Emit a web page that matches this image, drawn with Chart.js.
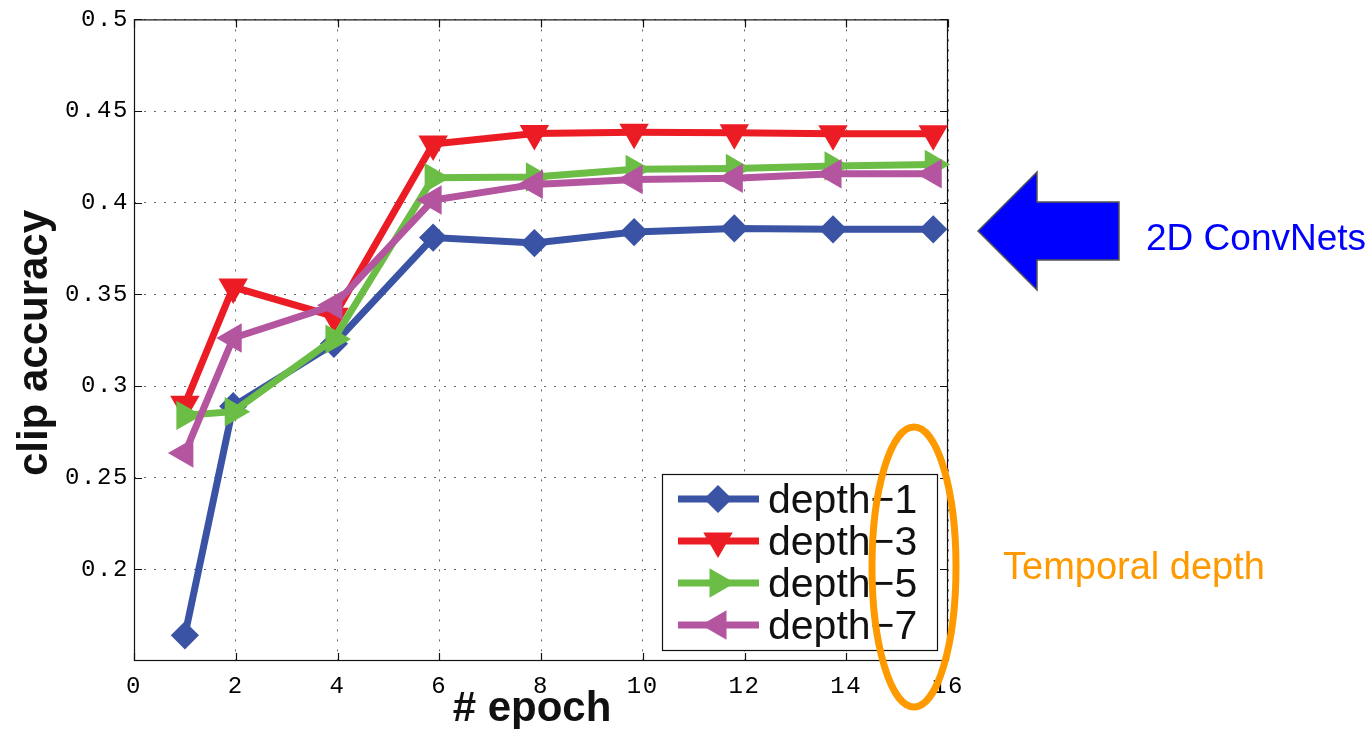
<!DOCTYPE html>
<html><head><meta charset="utf-8">
<script src="https://cdn.jsdelivr.net/npm/chart.js@4.4.0/dist/chart.umd.min.js"></script>
<style>html,body{margin:0;padding:0;background:#fff;overflow:hidden}#wrap{position:relative;width:1372px;height:729px}</style>
</head><body><div id="wrap"><canvas id="c"></canvas></div>
<script>
// ---- data ----
const epochs = [1, 1.95, 3.93, 5.88, 7.87, 9.83, 11.8, 13.74, 15.71];
const depth1 = [0.164, 0.289, 0.323, 0.381, 0.378, 0.384, 0.386, 0.3855, 0.3855];
const depth3 = [0.290, 0.354, 0.338, 0.432, 0.4378, 0.4385, 0.4381, 0.4376, 0.4376];
const depth5 = [0.284, 0.286, 0.3256, 0.4136, 0.414, 0.4182, 0.4187, 0.420, 0.4209];
const depth7 = [0.2634, 0.3262, 0.344, 0.4015, 0.41, 0.4127, 0.4133, 0.4158, 0.4158];
const seriesLabels = ['depth\u22121', 'depth\u22123', 'depth\u22125', 'depth\u22127'];
const xTicks = [0, 2, 4, 6, 8, 10, 12, 14, 16];
const yTicks = [0.2, 0.25, 0.3, 0.35, 0.4, 0.45, 0.5];
const xTitle = '# epoch';
const yTitle = 'clip accuracy';
const noteArrow = '2D ConvNets';
const noteEllipse = 'Temporal depth';

// ---- styles ----
const seriesColors = ['#3a53a4', '#ec1c24', '#6bbd45', '#b4559f'];
const seriesMarkers = ['rectRot', 'triangle', 'triangle', 'triangle'];
const seriesRotation = [0, 180, 90, 270];
const seriesRadius = [12, 14, 14, 14];
const seriesValues = [depth1, depth3, depth5, depth7];

const datasets = seriesValues.map((vals, i) => ({
  label: seriesLabels[i],
  data: vals.map((v, j) => ({x: epochs[j], y: v})),
  borderColor: seriesColors[i],
  backgroundColor: seriesColors[i],
  borderWidth: 7,
  pointStyle: seriesMarkers[i],
  pointRotation: seriesRotation[i],
  pointRadius: seriesRadius[i],
  pointBorderWidth: 3,
  pointBackgroundColor: seriesColors[i],
  pointBorderColor: seriesColors[i],
  tension: 0,
  order: 3 - i,
  clip: false
}));

function drawMarker(ctx, style, rot, r, x, y) {
  ctx.save();
  ctx.translate(x, y);
  ctx.rotate(rot * Math.PI / 180);
  ctx.beginPath();
  if (style === 'rectRot') {
    ctx.moveTo(-r, 0); ctx.lineTo(0, -r); ctx.lineTo(r, 0); ctx.lineTo(0, r);
  } else {
    for (let k = 0; k < 3; k++) {
      const a = k * 2 * Math.PI / 3;
      const px = Math.sin(a) * r, py = -Math.cos(a) * r;
      if (k === 0) ctx.moveTo(px, py); else ctx.lineTo(px, py);
    }
  }
  ctx.closePath();
  ctx.fill();
  ctx.stroke();
  ctx.restore();
}

const deco = {
  id: 'deco',
  beforeDraw(chart) {
    chart.ctx.letterSpacing = '1.6px';
  },
  beforeDatasetsDraw(chart) {
    const {ctx, chartArea: a, scales} = chart;
    ctx.save();
    ctx.strokeStyle = '#111';
    ctx.lineWidth = 1.2;
    ctx.strokeRect(a.left + 0.5, a.top + 0.5, a.right - a.left - 1, a.bottom - a.top - 1);
    ctx.beginPath();
    xTicks.forEach(v => {
      const px = Math.round(scales.x.getPixelForValue(v)) + 0.5;
      ctx.moveTo(px, a.bottom); ctx.lineTo(px, a.bottom - 8);
      ctx.moveTo(px, a.top); ctx.lineTo(px, a.top + 8);
    });
    yTicks.forEach(v => {
      const py = Math.round(scales.y.getPixelForValue(v)) + 0.5;
      ctx.moveTo(a.left, py); ctx.lineTo(a.left + 8, py);
      ctx.moveTo(a.right, py); ctx.lineTo(a.right - 8, py);
    });
    ctx.stroke();
    ctx.restore();
  },
  afterDraw(chart) {
    const ctx = chart.ctx;
    ctx.save();
    ctx.letterSpacing = '0px';
    // axis titles
    ctx.fillStyle = '#111';
    ctx.font = 'bold 42px "Liberation Sans", Arial, sans-serif';
    ctx.textAlign = 'center';
    ctx.textBaseline = 'alphabetic';
    ctx.fillText(xTitle, 532, 721);
    ctx.save();
    ctx.translate(47, 343);
    ctx.rotate(-Math.PI / 2);
    ctx.fillText(yTitle, 0, 0);
    ctx.restore();

    // legend
    const lx = 662, ly = 474, lw = 275, lh = 176;
    ctx.fillStyle = '#fff';
    ctx.fillRect(lx, ly, lw, lh);
    ctx.strokeStyle = '#111';
    ctx.lineWidth = 1.2;
    ctx.strokeRect(lx + 0.5, ly + 0.5, lw, lh);
    const rows = [499, 541, 583, 625];
    chart.data.datasets.forEach((ds, i) => {
      const y = rows[i];
      ctx.strokeStyle = ds.borderColor;
      ctx.fillStyle = ds.borderColor;
      ctx.lineWidth = 7;
      ctx.beginPath();
      ctx.moveTo(678, y); ctx.lineTo(759, y);
      ctx.stroke();
      ctx.lineWidth = 3;
      drawMarker(ctx, ds.pointStyle, ds.pointRotation, ds.pointRadius, 718, y);
      ctx.fillStyle = '#111';
      ctx.font = '41px "Liberation Sans", Arial, sans-serif';
      ctx.textAlign = 'left';
      ctx.textBaseline = 'alphabetic';
      ctx.fillText(ds.label, 768, y + 14);
    });

    // arrow annotation
    ctx.beginPath();
    ctx.moveTo(978, 231); ctx.lineTo(1037, 172); ctx.lineTo(1037, 202);
    ctx.lineTo(1119, 202); ctx.lineTo(1119, 260); ctx.lineTo(1037, 260);
    ctx.lineTo(1037, 290); ctx.closePath();
    ctx.fillStyle = '#0000ff';
    ctx.fill();
    ctx.strokeStyle = '#555';
    ctx.lineWidth = 1.5;
    ctx.stroke();
    ctx.font = '37px "Liberation Sans", Arial, sans-serif';
    ctx.fillStyle = '#0000ff';
    ctx.textAlign = 'left';
    ctx.fillText(noteArrow, 1146, 250);

    // ellipse annotation
    ctx.beginPath();
    ctx.ellipse(914, 567, 42, 140, 0, 0, Math.PI * 2);
    ctx.strokeStyle = '#ff9900';
    ctx.lineWidth = 7;
    ctx.stroke();
    ctx.font = '38px "Liberation Sans", Arial, sans-serif';
    ctx.fillStyle = '#ff9900';
    ctx.fillText(noteEllipse, 1003, 579);
    ctx.restore();
  }
};

new Chart(document.getElementById('c'), {
  type: 'line',
  data: {datasets},
  options: {
    responsive: true,
    maintainAspectRatio: false,
    animation: false,
    layout: {padding: {left: 0, right: 424, top: 19, bottom: 0}},
    plugins: {legend: {display: false}, tooltip: {enabled: false}},
    scales: {
      x: {
        type: 'linear', min: 0, max: 16,
        afterBuildTicks: s => { s.ticks = xTicks.map(v => ({value: v})); },
        afterFit: s => { s.height = 68; },
        ticks: {font: {family: '"Liberation Mono", monospace', size: 24}, color: '#000', padding: 11,
                maxRotation: 0, autoSkip: false, callback: v => String(v)},
        grid: {color: '#666', lineWidth: 1, drawTicks: false},
        border: {display: false, dash: [2, 8]}
      },
      y: {
        type: 'linear', min: 0.15, max: 0.5,
        afterBuildTicks: s => { s.ticks = yTicks.map(v => ({value: v})); },
        afterFit: s => { s.width = 134; },
        ticks: {font: {family: '"Liberation Mono", monospace', size: 24}, color: '#000', padding: 5,
                autoSkip: false, callback: v => String(v)},
        grid: {color: '#666', lineWidth: 1, drawTicks: false},
        border: {display: false, dash: [2, 8]}
      }
    }
  },
  plugins: [deco]
});
</script></body></html>
